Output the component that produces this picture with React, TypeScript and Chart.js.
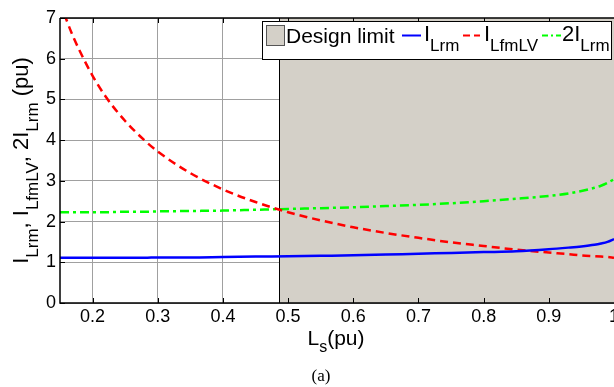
import React, { useEffect, useRef } from "react";
import { Chart, registerables } from "chart.js";

Chart.register(...registerables);

// ---- data ----
const Ls = [0.15, 0.16, 0.17, 0.18, 0.2, 0.22, 0.25, 0.28, 0.3, 0.35, 0.4, 0.45, 0.5, 0.55, 0.6, 0.65, 0.7, 0.75, 0.8, 0.85, 0.9, 0.93, 0.95, 0.97, 0.98, 0.99, 1.0];
const ILrm = [1.11, 1.11, 1.11, 1.11, 1.11, 1.11, 1.11, 1.11, 1.12, 1.12, 1.13, 1.14, 1.15, 1.16, 1.17, 1.19, 1.21, 1.23, 1.25, 1.27, 1.32, 1.36, 1.39, 1.43, 1.46, 1.5, 1.57];
const ILfmLV = [7.4, 6.95, 6.55, 6.2, 5.58, 5.07, 4.47, 3.99, 3.72, 3.19, 2.79, 2.48, 2.23, 2.03, 1.86, 1.72, 1.6, 1.49, 1.4, 1.31, 1.24, 1.2, 1.17, 1.15, 1.14, 1.13, 1.11];
const twoILrm = [2.23, 2.23, 2.23, 2.23, 2.23, 2.23, 2.24, 2.24, 2.25, 2.26, 2.27, 2.29, 2.31, 2.33, 2.35, 2.38, 2.41, 2.45, 2.5, 2.56, 2.63, 2.69, 2.75, 2.83, 2.88, 2.95, 3.04];
const designLimit = 0.486;
const xTickValues = [0.2, 0.3, 0.4, 0.5, 0.6, 0.7, 0.8, 0.9, 1.0];
const xTickLabels = ["0.2", "0.3", "0.4", "0.5", "0.6", "0.7", "0.8", "0.9", "1"];
const yTickValues = [0, 1, 2, 3, 4, 5, 6, 7];

const SANS = "'Liberation Sans', Arial, sans-serif";
const SHADE = "#d4d0c8";

type Piece = { t: string; sub?: boolean };

function drawPieces(ctx: CanvasRenderingContext2D, pieces: Piece[], x: number, y: number, main: number, sub: number, subDy: number) {
  let cx = x;
  for (const p of pieces) {
    ctx.font = `${p.sub ? sub : main}px ${SANS}`;
    ctx.fillText(p.t, cx, p.sub ? y + subDy : y);
    cx += ctx.measureText(p.t).width;
  }
  return cx;
}
function widthPieces(ctx: CanvasRenderingContext2D, pieces: Piece[], main: number, sub: number) {
  let w = 0;
  for (const p of pieces) {
    ctx.font = `${p.sub ? sub : main}px ${SANS}`;
    w += ctx.measureText(p.t).width;
  }
  return w;
}

const overlay = {
  id: "overlay",
  beforeDatasetsDraw(chart: any) {
    const { ctx, chartArea: a, scales } = chart;
    const xl = scales.x.getPixelForValue(designLimit);
    ctx.save();
    ctx.fillStyle = SHADE;
    ctx.fillRect(xl, a.top, a.right - xl + 30, a.bottom - a.top);
    ctx.strokeStyle = "#000";
    ctx.lineWidth = 1;
    ctx.beginPath();
    ctx.moveTo(Math.round(xl) + 0.5, a.top);
    ctx.lineTo(Math.round(xl) + 0.5, a.bottom);
    ctx.stroke();
    ctx.restore();
  },
  afterDatasetsDraw(chart: any) {
    const { ctx, chartArea: a, scales } = chart;
    ctx.save();
    ctx.strokeStyle = "#000";
    ctx.lineWidth = 1.5;
    ctx.beginPath();
    ctx.moveTo(a.left, a.top);
    ctx.lineTo(a.right + 30, a.top);
    ctx.moveTo(a.left, a.top);
    ctx.lineTo(a.left, a.bottom);
    ctx.lineTo(a.right + 30, a.bottom);
    ctx.stroke();
    ctx.lineWidth = 1;
    ctx.beginPath();
    for (const v of xTickValues) {
      const px = Math.round(scales.x.getPixelForValue(v)) + 0.5;
      ctx.moveTo(px, a.bottom);
      ctx.lineTo(px, a.bottom - 5);
      ctx.moveTo(px, a.top);
      ctx.lineTo(px, a.top + 5);
    }
    for (const v of yTickValues) {
      const py = Math.round(scales.y.getPixelForValue(v)) + 0.5;
      ctx.moveTo(a.left, py);
      ctx.lineTo(a.left + 5, py);
    }
    ctx.stroke();
    ctx.restore();
  },
  afterDraw(chart: any) {
    const { ctx, chartArea: a } = chart;
    ctx.save();
    ctx.fillStyle = "#000";
    ctx.textBaseline = "alphabetic";
    ctx.textAlign = "left";

    // ---- legend ----
    ctx.fillStyle = "#fff";
    ctx.fillRect(262.5, 21.5, 349, 38);
    ctx.strokeStyle = "#000";
    ctx.lineWidth = 1;
    ctx.strokeRect(262.5, 21.5, 349, 38);
    ctx.fillStyle = SHADE;
    ctx.fillRect(266, 25, 18, 20);
    ctx.strokeStyle = "#555";
    ctx.strokeRect(266.5, 25.5, 18, 20);
    ctx.fillStyle = "#000";
    ctx.font = `21px ${SANS}`;
    ctx.fillText("Design limit", 286, 43);
    const ly = 35.5;
    ctx.lineWidth = 2;
    ctx.strokeStyle = "#0000ff";
    ctx.beginPath();
    ctx.moveTo(402, ly);
    ctx.lineTo(421, ly);
    ctx.stroke();
    drawPieces(ctx, [{ t: "I" }, { t: "Lrm", sub: true }], 424, 41, 22, 17, 10);
    ctx.strokeStyle = "#ff0000";
    ctx.setLineDash([7, 4]);
    ctx.beginPath();
    ctx.moveTo(463, ly);
    ctx.lineTo(480, ly);
    ctx.stroke();
    drawPieces(ctx, [{ t: "I" }, { t: "LfmLV", sub: true }], 484, 41, 22, 17, 10);
    ctx.strokeStyle = "#00ff00";
    ctx.setLineDash([6, 3, 2, 3]);
    ctx.beginPath();
    ctx.moveTo(542, ly);
    ctx.lineTo(561, ly);
    ctx.stroke();
    ctx.setLineDash([]);
    drawPieces(ctx, [{ t: "2I" }, { t: "Lrm", sub: true }], 562, 41, 22, 17, 10);

    // ---- y title ----
    const yPieces: Piece[] = [
      { t: "I" }, { t: "Lrm", sub: true }, { t: ", I" }, { t: "LfmLV", sub: true },
      { t: ", 2I" }, { t: "Lrm", sub: true }, { t: " (pu)" },
    ];
    const yw = widthPieces(ctx, yPieces, 22, 17);
    ctx.save();
    ctx.translate(28, (a.top + a.bottom) / 2);
    ctx.rotate(-Math.PI / 2);
    drawPieces(ctx, yPieces, -yw / 2, 0, 22, 17, 10);
    ctx.restore();

    // ---- x title ----
    const xPieces: Piece[] = [{ t: "L" }, { t: "s", sub: true }, { t: "(pu)" }];
    const xw = widthPieces(ctx, xPieces, 21, 16);
    drawPieces(ctx, xPieces, 336 - xw / 2, 345, 21, 16, 7);

    // ---- caption ----
    ctx.font = `17px 'Liberation Serif', 'DejaVu Serif', serif`;
    ctx.textAlign = "center";
    ctx.fillText("(a)", 321, 381);
    ctx.restore();
  },
};

export default function App() {
  const ref = useRef<HTMLCanvasElement | null>(null);
  useEffect(() => {
    if (!ref.current) return;
    const pts = (ys: number[]) => Ls.map((x, i) => ({ x, y: ys[i] }));
    const chart = new Chart(ref.current, {
      type: "line",
      data: {
        datasets: [
          { label: "I_Lrm", data: pts(ILrm), borderColor: "#0000ff", borderWidth: 2.5, pointRadius: 0, cubicInterpolationMode: "monotone", fill: false },
          { label: "I_LfmLV", data: pts(ILfmLV), borderColor: "#ff0000", borderWidth: 2.5, borderDash: [8, 5], pointRadius: 0, cubicInterpolationMode: "monotone", fill: false },
          { label: "2I_Lrm", data: pts(twoILrm), borderColor: "#00ff00", borderWidth: 2.5, borderDash: [9, 4, 3, 4], pointRadius: 0, cubicInterpolationMode: "monotone", fill: false },
        ],
      },
      options: {
        responsive: false,
        animation: false,
        layout: { padding: { top: 18, right: 26, left: 0, bottom: 0 } },
        plugins: { legend: { display: false }, tooltip: { enabled: false } },
        scales: {
          x: {
            type: "linear",
            min: 0.15,
            max: 1.0,
            afterBuildTicks: (s: any) => { s.ticks = xTickValues.map((v) => ({ value: v })); },
            afterFit: (s: any) => { s.height = 84; },
            ticks: {
              callback: (_v: any, i: number) => xTickLabels[i],
              font: { size: 18, family: SANS },
              color: "#000",
              padding: 3,
              maxRotation: 0,
              autoSkip: false,
            },
            grid: { color: "#a0a0a0", drawTicks: false, lineWidth: 1 },
            border: { display: false },
          },
          y: {
            min: 0,
            max: 7,
            afterBuildTicks: (s: any) => { s.ticks = yTickValues.map((v) => ({ value: v })); },
            afterFit: (s: any) => { s.width = 60; },
            ticks: {
              callback: (v: any) => String(v),
              font: { size: 18, family: SANS },
              color: "#000",
              padding: 4,
            },
            grid: { color: "#a0a0a0", drawTicks: false, lineWidth: 1 },
            border: { display: false },
          },
        },
      },
      plugins: [overlay],
    });
    return () => chart.destroy();
  }, []);
  return (
    <div style={{ position: "fixed", left: 0, top: 0, width: 614, height: 387, overflow: "hidden", background: "#fff" }}>
      <canvas ref={ref} width={640} height={387} style={{ width: 640, height: 387, display: "block" }} />
    </div>
  );
}
